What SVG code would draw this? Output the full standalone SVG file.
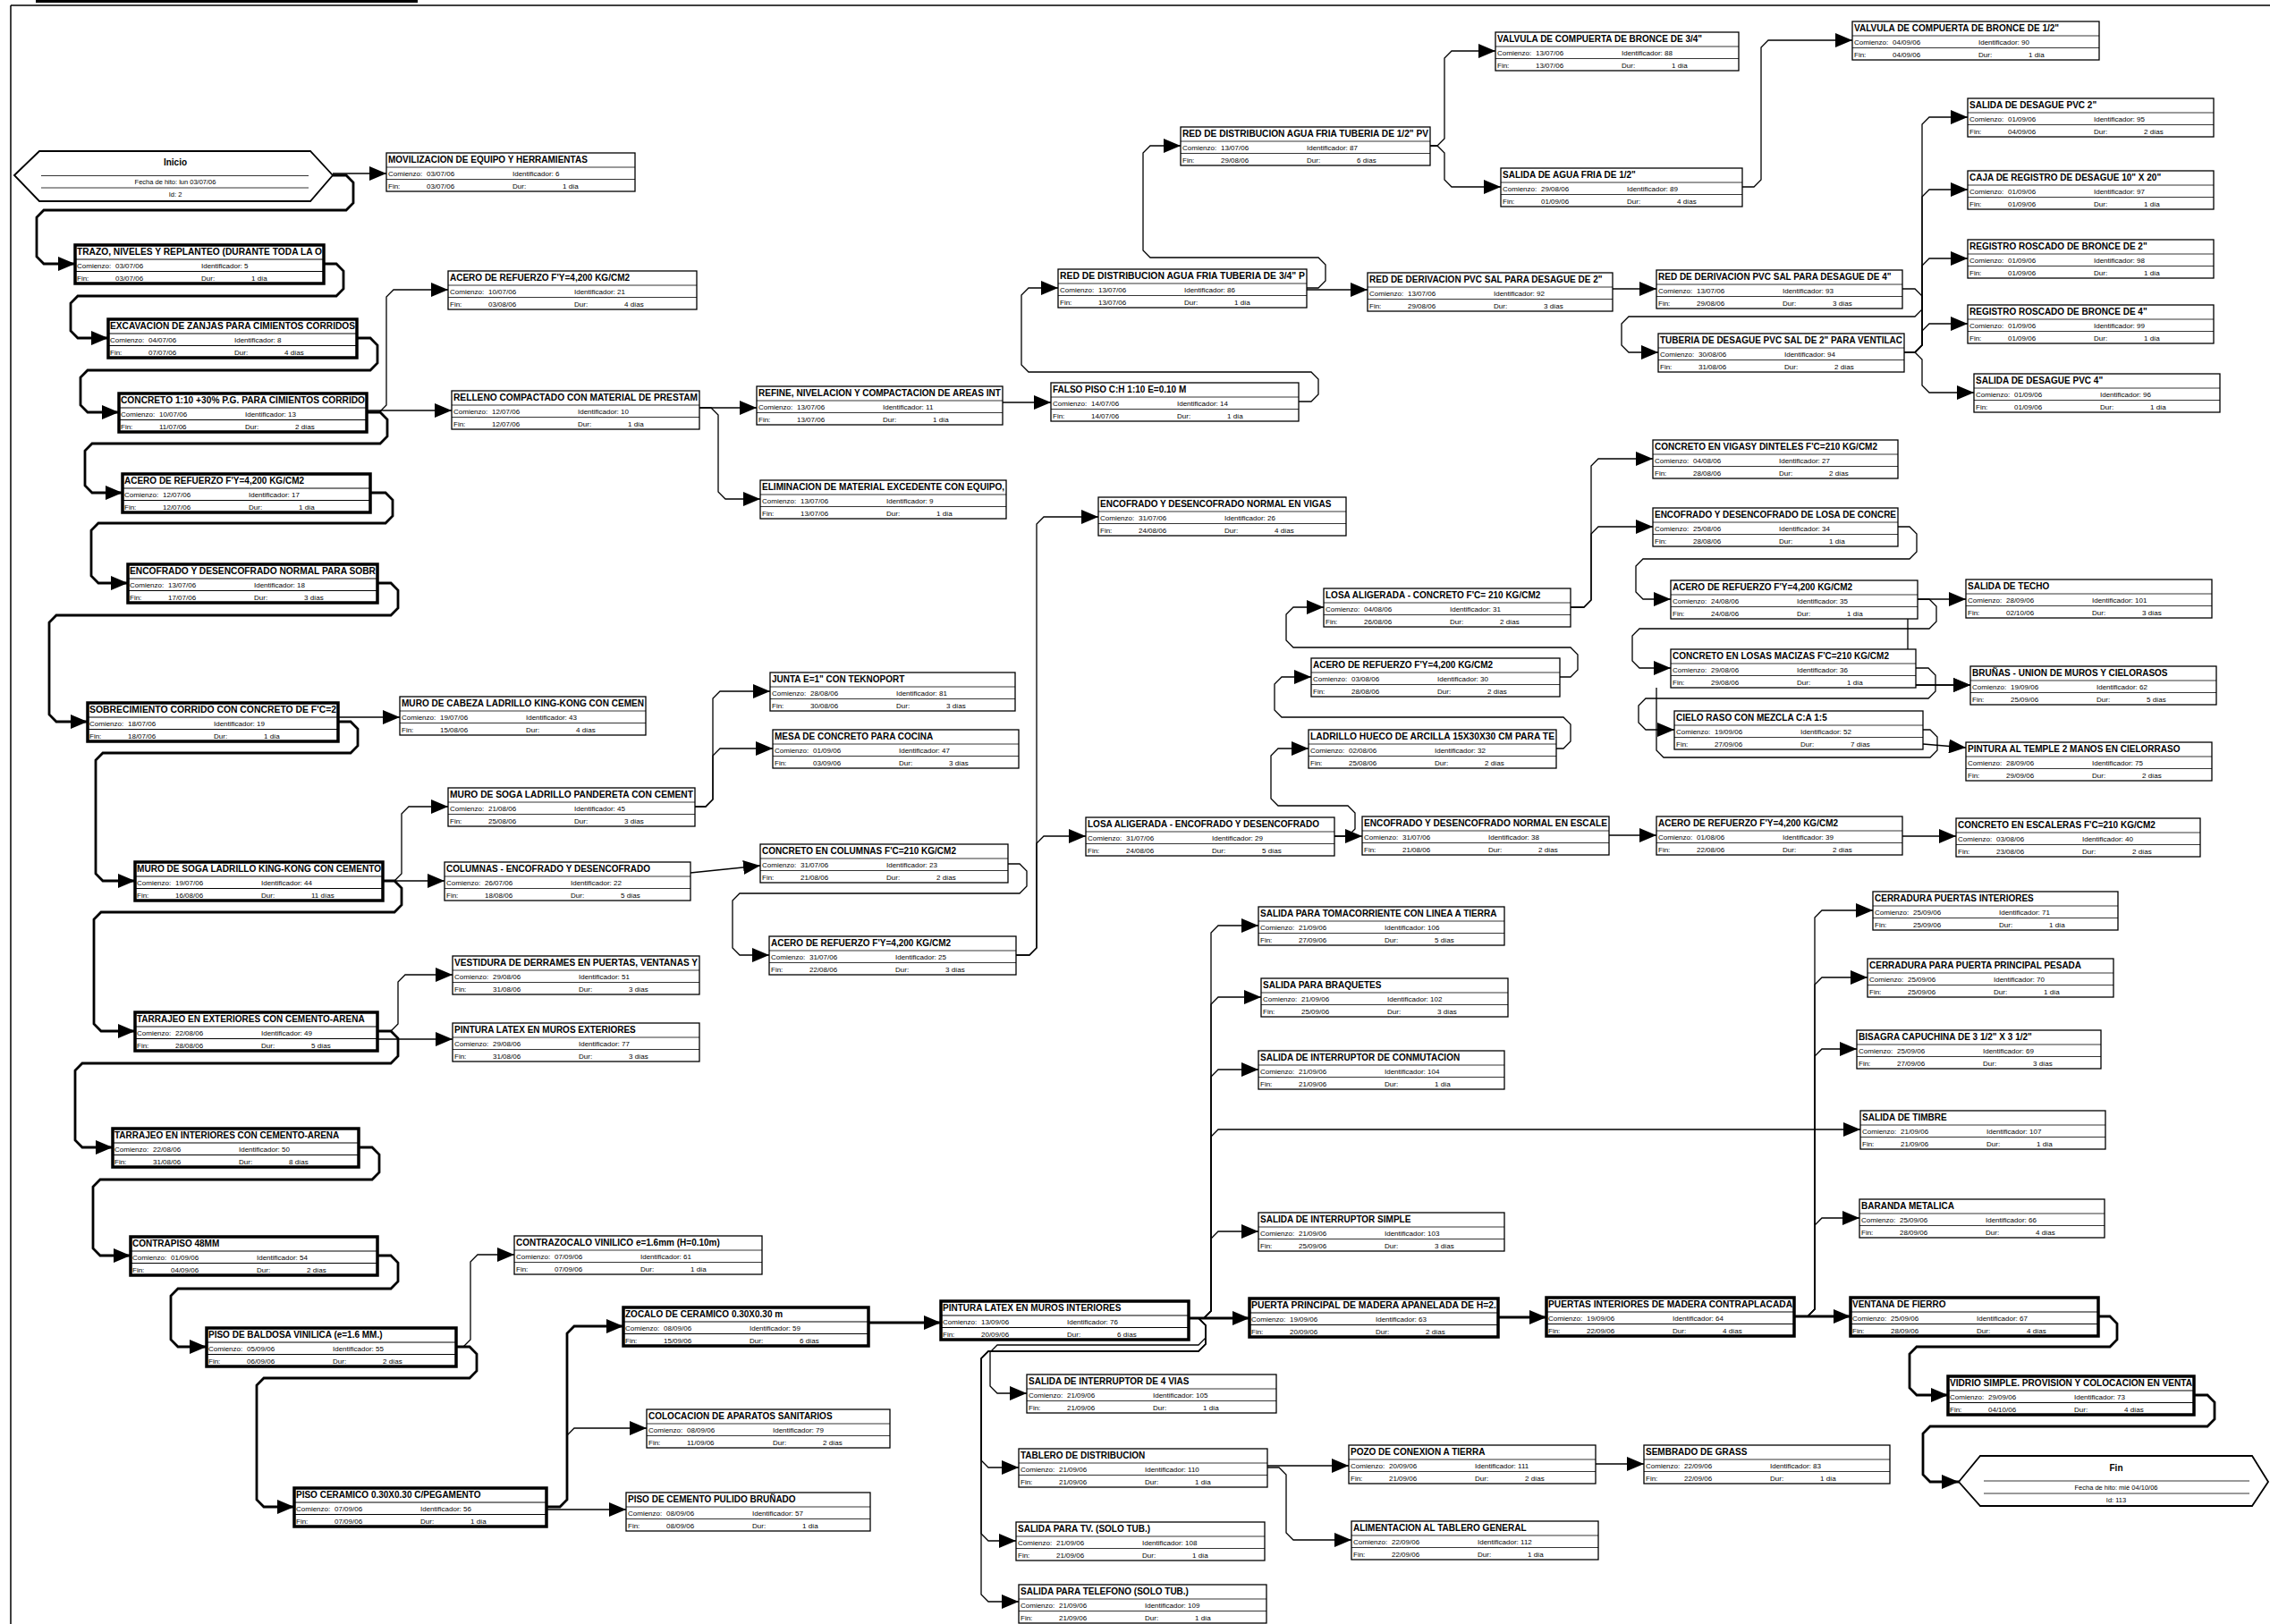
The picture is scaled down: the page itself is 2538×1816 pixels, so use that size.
<svg xmlns="http://www.w3.org/2000/svg" width="2538" height="1816" viewBox="0 0 2538 1816">
<style>
.n rect{fill:#fff;stroke:#000;stroke-width:1.3}
.n.c rect{stroke-width:3.5}
.n path{fill:none;stroke:#000;stroke-width:0.8}
.n.c path{stroke-width:1.2}
.t{font-family:"Liberation Sans",Arial,sans-serif;font-weight:bold;font-size:10px;fill:#000}
.r{font-family:"Liberation Sans",Arial,sans-serif;font-size:8px;fill:#000}
.s{font-family:"Liberation Sans",Arial,sans-serif;font-size:7.5px;fill:#000}
.k path{fill:none;stroke:#000;stroke-width:1.3;marker-end:url(#a)}
.k path.c{stroke-width:2.8}
.k path.nm{marker-end:none}
.m polygon{fill:#fff;stroke:#000;stroke-width:1.8}
.m path{fill:none;stroke:#000;stroke-width:0.8}
.f path{fill:none;stroke:#000}
</style>
<defs>
<marker id="a" markerUnits="userSpaceOnUse" markerWidth="19" markerHeight="16" refX="19" refY="8" orient="auto"><path d="M0,0L19,8L0,16z" fill="#000" stroke="none"/></marker>
</defs>
<rect width="2538" height="1816" fill="#fff"/>
<g id="frame" class="f"><path d="M40 1.5H467" stroke-width="3"/><path d="M12 6H2538M12 6V1816" stroke-width="1.5"/></g>

<g id="connectors" class="k">
<path class="c" d="M372 196H387l8 8V227l-8 8H49l-8 8V287l8 8H84"/>
<path class="c" d="M362 295H376l8 8V323l-8 8H87l-8 8V370l8 8H121"/>
<path class="c" d="M399 378H414l8 8V406l-8 8H98l-8 8V453l8 8H133"/>
<path class="c" d="M410 461H425l8 8V488l-8 8H103l-8 8V543l8 8H137"/>
<path class="c" d="M414 551H431l8 8V577l-8 8H110l-8 8V644l8 8H143"/>
<path class="c" d="M422 652H437l8 8V680l-8 8H63l-8 8V799l8 8H98"/>
<path class="c" d="M378 807H392l8 8V834l-8 8H115l-8 8V977l8 8H151"/>
<path class="c" d="M428 985H441l8 8V1012l-8 8H113l-8 8V1145l8 8H151"/>
<path class="c" d="M422 1153H437l8 8V1181l-8 8H92l-8 8V1275l8 8H126"/>
<path class="c" d="M401 1283H416l8 8V1311l-8 8H112l-8 8V1396l8 8H146"/>
<path class="c" d="M422 1404H437l8 8V1433l-8 8H199l-8 8V1498l8 8H231"/>
<path class="c" d="M510 1506H525l8 8V1533l-8 8H295l-8 8V1677l8 8H329"/>
<path class="c" d="M611 1685H626l8 -8V1491l8 -8H697"/>
<path class="c" d="M971 1479H1052"/>
<path class="c" d="M1329 1474H1397"/>
<path class="c" d="M1675 1473H1729"/>
<path class="c" d="M2006 1472H2069"/>
<path class="c" d="M2346 1472H2359l8 8V1498l-8 8H2143l-8 8V1552l8 8H2178"/>
<path class="c" d="M2453 1560H2468l8 8V1587l-8 8H2158l-8 8V1649l8 8H2190"/>
<path d="M372 194H432"/>
<path d="M410 461H424l8 -8V332l8 -8H501"/>
<path d="M410 459H505"/>
<path d="M782 456H846"/>
<path d="M782 456H795l8 8V550l8 8H850"/>
<path d="M1121 450H1175"/>
<path d="M1452 449H1466l8 -8V424l-8 -8H1150l-8 -8V330l8 -8H1183"/>
<path d="M1461 322H1474l8 -8V296l-8 -8H1286l-8 -8V171l8 -8H1320"/>
<path d="M1461 324H1529"/>
<path d="M1599 163H1607l8 -8V65l8 -8H1672"/>
<path d="M1599 163H1607l8 8V201l8 8H1678"/>
<path d="M1948 209H1961l8 -8V53l8 -8H2071"/>
<path d="M1803 323H1852"/>
<path d="M2127 323H2141l8 8V346l-8 8H1821l-8 8V386l8 8H1854"/>
<path d="M2129 394H2141l8 -8V139l8 -8H2200"/>
<path d="M2129 394H2141l8 -8V220l8 -8H2200"/>
<path d="M2129 394H2141l8 -8V297l8 -8H2200"/>
<path d="M2129 394H2141l8 -8V370l8 -8H2200"/>
<path d="M2129 394H2141l8 8V431l8 8H2207"/>
<path d="M1136 1068H1151l8 -8V586l8 -8H1228"/>
<path d="M1136 1068H1151l8 -8V943l8 -8H1214"/>
<path d="M1492 935H1523"/>
<path d="M1492 935H1507l8 -8V909l-8 -8H1429l-8 -8V845l8 -8H1463"/>
<path d="M1740 837H1748l8 -8V810l-8 -8H1433l-8 -8V765l8 -8H1466"/>
<path d="M1744 757H1756l8 -8V732l-8 -8H1446l-8 -8V687l8 -8H1480"/>
<path d="M1756 679H1771l8 -8V521l8 -8H1848"/>
<path d="M1756 679H1771l8 -8V597l8 -8H1848"/>
<path d="M1799 934H1852"/>
<path d="M2127 935H2187"/>
<path d="M2122 589H2135l8 8V617l-8 8H1837l-8 8V662l8 8H1868"/>
<path d="M2144 670H2157l8 8V695l-8 8H1833l-8 8V739l8 8H1868"/>
<path d="M2142 747H2156l8 8V773l-8 8H1840l-8 8V808l8 8H1872"/>
<path d="M2144 670H2198"/>
<path d="M2142 766H2203"/>
<path d="M2133 692V758l8 8H2203"/>
<path d="M2150 832L2198 836"/>
<path class="nm" d="M1852 769V839l8 8H2158l8 -8V824l-8 -8H2150"/>
<path d="M1329 1474H1346l8 -8V1043l8 -8H1407"/>
<path d="M1329 1474H1346l8 -8V1123l8 -8H1410"/>
<path d="M1329 1474H1346l8 -8V1204l8 -8H1407"/>
<path d="M1329 1474H1346l8 -8V1271l8 -8H2080"/>
<path d="M1329 1474H1346l8 -8V1385l8 -8H1407"/>
<path d="M1329 1474H1340l8 8V1496l-8 8H1115l-8 8V1550l8 8H1148"/>
<path d="M1329 1474H1340l8 8V1503l-8 8H1105l-8 8V1633l8 8H1139"/>
<path d="M1329 1474H1340l8 8V1503l-8 8H1105l-8 8V1715l8 8H1136"/>
<path d="M1329 1474H1340l8 8V1503l-8 8H1105l-8 8V1783l8 8H1139"/>
<path d="M1417 1639H1508"/>
<path d="M1417 1641H1430l8 8V1714l8 8H1511"/>
<path d="M1784 1637H1838"/>
<path d="M2006 1472H2021l8 -8V1026l8 -8H2094"/>
<path d="M2006 1472H2021l8 -8V1101l8 -8H2088"/>
<path d="M2006 1472H2021l8 -8V1181l8 -8H2076"/>
<path d="M2006 1472H2021l8 -8V1370l8 -8H2079"/>
<path d="M611 1685H626l8 -8V1605l8 -8H723"/>
<path d="M611 1688H700"/>
<path d="M510 1506H518l8 -8V1411l8 -8H575"/>
<path d="M428 985H441l8 -8V910l8 -8H501"/>
<path d="M428 985H497"/>
<path d="M378 802H447"/>
<path d="M422 1153H437l8 -8V1098l8 -8H506"/>
<path d="M422 1162H506"/>
<path d="M777 902H789l8 -8V781l8 -8H861"/>
<path d="M777 902H789l8 -8V845l8 -8H864"/>
<path d="M772 976L850 968"/>
<path d="M1127 966H1140l8 8V991l-8 8H827l-8 8V1060l8 8H860"/>
</g>

<g id="inicio" class="m"><polygon points="16,196 44,169 347,169 372,196 347,225 44,225"/><path d="M46 196.5H345M46 210H345"/><text class="t" x="196" y="185" text-anchor="middle">Inicio</text><text class="s" x="196" y="206" text-anchor="middle">Fecha de hito: lun 03/07/06</text><text class="s" x="196" y="220" text-anchor="middle">Id: 2</text></g>
<g id="fin" class="m"><polygon points="2190,1657 2214,1628 2518,1628 2536,1657 2518,1684 2214,1684"/><path d="M2218 1656H2515M2218 1670H2515"/><text class="t" x="2366" y="1645" text-anchor="middle">Fin</text><text class="s" x="2366" y="1666" text-anchor="middle">Fecha de hito: mié 04/10/06</text><text class="s" x="2366" y="1680" text-anchor="middle">Id: 113</text></g>

<g id="n6" class="n" transform="translate(432,171)"><rect width="278" height="43"/><path d="M0 16H278M0 29.5H278"/><text class="t" x="2" y="11">MOVILIZACION DE EQUIPO Y HERRAMIENTAS</text><text class="r" y="25.5"><tspan x="2">Comienzo:</tspan><tspan x="45">03/07/06</tspan><tspan x="141">Identificador: 6</tspan></text><text class="r" y="39.5"><tspan x="2">Fin:</tspan><tspan x="45">03/07/06</tspan><tspan x="141">Dur:</tspan><tspan x="197">1 día</tspan></text></g>
<g id="n5" class="n c" transform="translate(84,274)"><rect width="278" height="43"/><path d="M0 16H278M0 29.5H278"/><text class="t" x="2" y="11" textLength="274" lengthAdjust="spacingAndGlyphs">TRAZO, NIVELES Y REPLANTEO (DURANTE TODA LA O</text><text class="r" y="25.5"><tspan x="2">Comienzo:</tspan><tspan x="45">03/07/06</tspan><tspan x="141">Identificador: 5</tspan></text><text class="r" y="39.5"><tspan x="2">Fin:</tspan><tspan x="45">03/07/06</tspan><tspan x="141">Dur:</tspan><tspan x="197">1 día</tspan></text></g>
<g id="n8" class="n c" transform="translate(121,357)"><rect width="278" height="43"/><path d="M0 16H278M0 29.5H278"/><text class="t" x="2" y="11" textLength="274" lengthAdjust="spacingAndGlyphs">EXCAVACION DE ZANJAS PARA CIMIENTOS CORRIDOS</text><text class="r" y="25.5"><tspan x="2">Comienzo:</tspan><tspan x="45">04/07/06</tspan><tspan x="141">Identificador: 8</tspan></text><text class="r" y="39.5"><tspan x="2">Fin:</tspan><tspan x="45">07/07/06</tspan><tspan x="141">Dur:</tspan><tspan x="197">4 días</tspan></text></g>
<g id="n13" class="n c" transform="translate(133,440)"><rect width="277" height="43"/><path d="M0 16H277M0 29.5H277"/><text class="t" x="2" y="11" textLength="273" lengthAdjust="spacingAndGlyphs">CONCRETO 1:10 +30% P.G. PARA CIMIENTOS CORRIDO</text><text class="r" y="25.5"><tspan x="2">Comienzo:</tspan><tspan x="45">10/07/06</tspan><tspan x="141">Identificador: 13</tspan></text><text class="r" y="39.5"><tspan x="2">Fin:</tspan><tspan x="45">11/07/06</tspan><tspan x="141">Dur:</tspan><tspan x="197">2 días</tspan></text></g>
<g id="n21" class="n" transform="translate(501,303)"><rect width="278" height="43"/><path d="M0 16H278M0 29.5H278"/><text class="t" x="2" y="11">ACERO DE REFUERZO F'Y=4,200 KG/CM2</text><text class="r" y="25.5"><tspan x="2">Comienzo:</tspan><tspan x="45">10/07/06</tspan><tspan x="141">Identificador: 21</tspan></text><text class="r" y="39.5"><tspan x="2">Fin:</tspan><tspan x="45">03/08/06</tspan><tspan x="141">Dur:</tspan><tspan x="197">4 días</tspan></text></g>
<g id="n17" class="n c" transform="translate(137,530)"><rect width="277" height="43"/><path d="M0 16H277M0 29.5H277"/><text class="t" x="2" y="11">ACERO DE REFUERZO F'Y=4,200 KG/CM2</text><text class="r" y="25.5"><tspan x="2">Comienzo:</tspan><tspan x="45">12/07/06</tspan><tspan x="141">Identificador: 17</tspan></text><text class="r" y="39.5"><tspan x="2">Fin:</tspan><tspan x="45">12/07/06</tspan><tspan x="141">Dur:</tspan><tspan x="197">1 día</tspan></text></g>
<g id="n10" class="n" transform="translate(505,437)"><rect width="277" height="43"/><path d="M0 16H277M0 29.5H277"/><text class="t" x="2" y="11" textLength="273" lengthAdjust="spacingAndGlyphs">RELLENO COMPACTADO CON MATERIAL DE PRESTAM</text><text class="r" y="25.5"><tspan x="2">Comienzo:</tspan><tspan x="45">12/07/06</tspan><tspan x="141">Identificador: 10</tspan></text><text class="r" y="39.5"><tspan x="2">Fin:</tspan><tspan x="45">12/07/06</tspan><tspan x="141">Dur:</tspan><tspan x="197">1 día</tspan></text></g>
<g id="n11" class="n" transform="translate(846,432)"><rect width="275" height="43"/><path d="M0 16H275M0 29.5H275"/><text class="t" x="2" y="11" textLength="271" lengthAdjust="spacingAndGlyphs">REFINE, NIVELACION Y COMPACTACION DE AREAS INT</text><text class="r" y="25.5"><tspan x="2">Comienzo:</tspan><tspan x="45">13/07/06</tspan><tspan x="141">Identificador: 11</tspan></text><text class="r" y="39.5"><tspan x="2">Fin:</tspan><tspan x="45">13/07/06</tspan><tspan x="141">Dur:</tspan><tspan x="197">1 día</tspan></text></g>
<g id="n9" class="n" transform="translate(850,537)"><rect width="275" height="43"/><path d="M0 16H275M0 29.5H275"/><text class="t" x="2" y="11" textLength="271" lengthAdjust="spacingAndGlyphs">ELIMINACION DE MATERIAL EXCEDENTE CON EQUIPO,</text><text class="r" y="25.5"><tspan x="2">Comienzo:</tspan><tspan x="45">13/07/06</tspan><tspan x="141">Identificador: 9</tspan></text><text class="r" y="39.5"><tspan x="2">Fin:</tspan><tspan x="45">13/07/06</tspan><tspan x="141">Dur:</tspan><tspan x="197">1 día</tspan></text></g>
<g id="n14" class="n" transform="translate(1175,428)"><rect width="277" height="43"/><path d="M0 16H277M0 29.5H277"/><text class="t" x="2" y="11">FALSO PISO C:H 1:10 E=0.10 M</text><text class="r" y="25.5"><tspan x="2">Comienzo:</tspan><tspan x="45">14/07/06</tspan><tspan x="141">Identificador: 14</tspan></text><text class="r" y="39.5"><tspan x="2">Fin:</tspan><tspan x="45">14/07/06</tspan><tspan x="141">Dur:</tspan><tspan x="197">1 día</tspan></text></g>
<g id="n86" class="n" transform="translate(1183,301)"><rect width="278" height="43"/><path d="M0 16H278M0 29.5H278"/><text class="t" x="2" y="11" textLength="274" lengthAdjust="spacingAndGlyphs">RED DE DISTRIBUCION AGUA FRIA TUBERIA DE 3/4" P</text><text class="r" y="25.5"><tspan x="2">Comienzo:</tspan><tspan x="45">13/07/06</tspan><tspan x="141">Identificador: 86</tspan></text><text class="r" y="39.5"><tspan x="2">Fin:</tspan><tspan x="45">13/07/06</tspan><tspan x="141">Dur:</tspan><tspan x="197">1 día</tspan></text></g>
<g id="n87" class="n" transform="translate(1320,142)"><rect width="279" height="43"/><path d="M0 16H279M0 29.5H279"/><text class="t" x="2" y="11" textLength="275" lengthAdjust="spacingAndGlyphs">RED DE DISTRIBUCION AGUA FRIA TUBERIA DE 1/2" PV</text><text class="r" y="25.5"><tspan x="2">Comienzo:</tspan><tspan x="45">13/07/06</tspan><tspan x="141">Identificador: 87</tspan></text><text class="r" y="39.5"><tspan x="2">Fin:</tspan><tspan x="45">29/08/06</tspan><tspan x="141">Dur:</tspan><tspan x="197">6 días</tspan></text></g>
<g id="n88" class="n" transform="translate(1672,36)"><rect width="272" height="43"/><path d="M0 16H272M0 29.5H272"/><text class="t" x="2" y="11">VALVULA DE COMPUERTA DE BRONCE DE 3/4"</text><text class="r" y="25.5"><tspan x="2">Comienzo:</tspan><tspan x="45">13/07/06</tspan><tspan x="141">Identificador: 88</tspan></text><text class="r" y="39.5"><tspan x="2">Fin:</tspan><tspan x="45">13/07/06</tspan><tspan x="141">Dur:</tspan><tspan x="197">1 día</tspan></text></g>
<g id="n89" class="n" transform="translate(1678,188)"><rect width="270" height="43"/><path d="M0 16H270M0 29.5H270"/><text class="t" x="2" y="11">SALIDA DE AGUA FRIA DE 1/2"</text><text class="r" y="25.5"><tspan x="2">Comienzo:</tspan><tspan x="45">29/08/06</tspan><tspan x="141">Identificador: 89</tspan></text><text class="r" y="39.5"><tspan x="2">Fin:</tspan><tspan x="45">01/09/06</tspan><tspan x="141">Dur:</tspan><tspan x="197">4 días</tspan></text></g>
<g id="n90" class="n" transform="translate(2071,24)"><rect width="276" height="43"/><path d="M0 16H276M0 29.5H276"/><text class="t" x="2" y="11">VALVULA DE COMPUERTA DE BRONCE DE 1/2"</text><text class="r" y="25.5"><tspan x="2">Comienzo:</tspan><tspan x="45">04/09/06</tspan><tspan x="141">Identificador: 90</tspan></text><text class="r" y="39.5"><tspan x="2">Fin:</tspan><tspan x="45">04/09/06</tspan><tspan x="141">Dur:</tspan><tspan x="197">1 día</tspan></text></g>
<g id="n92" class="n" transform="translate(1529,305)"><rect width="274" height="43"/><path d="M0 16H274M0 29.5H274"/><text class="t" x="2" y="11">RED DE DERIVACION PVC SAL PARA DESAGUE DE 2"</text><text class="r" y="25.5"><tspan x="2">Comienzo:</tspan><tspan x="45">13/07/06</tspan><tspan x="141">Identificador: 92</tspan></text><text class="r" y="39.5"><tspan x="2">Fin:</tspan><tspan x="45">29/08/06</tspan><tspan x="141">Dur:</tspan><tspan x="197">3 días</tspan></text></g>
<g id="n93" class="n" transform="translate(1852,302)"><rect width="275" height="43"/><path d="M0 16H275M0 29.5H275"/><text class="t" x="2" y="11">RED DE DERIVACION PVC SAL PARA DESAGUE DE 4"</text><text class="r" y="25.5"><tspan x="2">Comienzo:</tspan><tspan x="45">13/07/06</tspan><tspan x="141">Identificador: 93</tspan></text><text class="r" y="39.5"><tspan x="2">Fin:</tspan><tspan x="45">29/08/06</tspan><tspan x="141">Dur:</tspan><tspan x="197">3 días</tspan></text></g>
<g id="n94" class="n" transform="translate(1854,373)"><rect width="275" height="43"/><path d="M0 16H275M0 29.5H275"/><text class="t" x="2" y="11" textLength="271" lengthAdjust="spacingAndGlyphs">TUBERIA DE DESAGUE PVC SAL DE 2" PARA VENTILAC</text><text class="r" y="25.5"><tspan x="2">Comienzo:</tspan><tspan x="45">30/08/06</tspan><tspan x="141">Identificador: 94</tspan></text><text class="r" y="39.5"><tspan x="2">Fin:</tspan><tspan x="45">31/08/06</tspan><tspan x="141">Dur:</tspan><tspan x="197">2 días</tspan></text></g>
<g id="n95" class="n" transform="translate(2200,110)"><rect width="275" height="43"/><path d="M0 16H275M0 29.5H275"/><text class="t" x="2" y="11">SALIDA DE DESAGUE PVC 2"</text><text class="r" y="25.5"><tspan x="2">Comienzo:</tspan><tspan x="45">01/09/06</tspan><tspan x="141">Identificador: 95</tspan></text><text class="r" y="39.5"><tspan x="2">Fin:</tspan><tspan x="45">04/09/06</tspan><tspan x="141">Dur:</tspan><tspan x="197">2 días</tspan></text></g>
<g id="n97" class="n" transform="translate(2200,191)"><rect width="275" height="43"/><path d="M0 16H275M0 29.5H275"/><text class="t" x="2" y="11">CAJA DE REGISTRO DE DESAGUE 10" X 20"</text><text class="r" y="25.5"><tspan x="2">Comienzo:</tspan><tspan x="45">01/09/06</tspan><tspan x="141">Identificador: 97</tspan></text><text class="r" y="39.5"><tspan x="2">Fin:</tspan><tspan x="45">01/09/06</tspan><tspan x="141">Dur:</tspan><tspan x="197">1 día</tspan></text></g>
<g id="n98" class="n" transform="translate(2200,268)"><rect width="275" height="43"/><path d="M0 16H275M0 29.5H275"/><text class="t" x="2" y="11">REGISTRO ROSCADO DE BRONCE DE 2"</text><text class="r" y="25.5"><tspan x="2">Comienzo:</tspan><tspan x="45">01/09/06</tspan><tspan x="141">Identificador: 98</tspan></text><text class="r" y="39.5"><tspan x="2">Fin:</tspan><tspan x="45">01/09/06</tspan><tspan x="141">Dur:</tspan><tspan x="197">1 día</tspan></text></g>
<g id="n99" class="n" transform="translate(2200,341)"><rect width="275" height="43"/><path d="M0 16H275M0 29.5H275"/><text class="t" x="2" y="11">REGISTRO ROSCADO DE BRONCE DE 4"</text><text class="r" y="25.5"><tspan x="2">Comienzo:</tspan><tspan x="45">01/09/06</tspan><tspan x="141">Identificador: 99</tspan></text><text class="r" y="39.5"><tspan x="2">Fin:</tspan><tspan x="45">01/09/06</tspan><tspan x="141">Dur:</tspan><tspan x="197">1 día</tspan></text></g>
<g id="n96" class="n" transform="translate(2207,418)"><rect width="275" height="43"/><path d="M0 16H275M0 29.5H275"/><text class="t" x="2" y="11">SALIDA DE DESAGUE PVC 4"</text><text class="r" y="25.5"><tspan x="2">Comienzo:</tspan><tspan x="45">01/09/06</tspan><tspan x="141">Identificador: 96</tspan></text><text class="r" y="39.5"><tspan x="2">Fin:</tspan><tspan x="45">01/09/06</tspan><tspan x="141">Dur:</tspan><tspan x="197">1 día</tspan></text></g>
<g id="n27" class="n" transform="translate(1848,492)"><rect width="274" height="43"/><path d="M0 16H274M0 29.5H274"/><text class="t" x="2" y="11">CONCRETO EN VIGASY DINTELES F'C=210 KG/CM2</text><text class="r" y="25.5"><tspan x="2">Comienzo:</tspan><tspan x="45">04/08/06</tspan><tspan x="141">Identificador: 27</tspan></text><text class="r" y="39.5"><tspan x="2">Fin:</tspan><tspan x="45">28/08/06</tspan><tspan x="141">Dur:</tspan><tspan x="197">2 días</tspan></text></g>
<g id="n34" class="n" transform="translate(1848,568)"><rect width="274" height="43"/><path d="M0 16H274M0 29.5H274"/><text class="t" x="2" y="11" textLength="270" lengthAdjust="spacingAndGlyphs">ENCOFRADO Y DESENCOFRADO DE LOSA DE CONCRE</text><text class="r" y="25.5"><tspan x="2">Comienzo:</tspan><tspan x="45">25/08/06</tspan><tspan x="141">Identificador: 34</tspan></text><text class="r" y="39.5"><tspan x="2">Fin:</tspan><tspan x="45">28/08/06</tspan><tspan x="141">Dur:</tspan><tspan x="197">1 día</tspan></text></g>
<g id="n26" class="n" transform="translate(1228,556)"><rect width="277" height="43"/><path d="M0 16H277M0 29.5H277"/><text class="t" x="2" y="11">ENCOFRADO Y DESENCOFRADO NORMAL EN VIGAS</text><text class="r" y="25.5"><tspan x="2">Comienzo:</tspan><tspan x="45">31/07/06</tspan><tspan x="141">Identificador: 26</tspan></text><text class="r" y="39.5"><tspan x="2">Fin:</tspan><tspan x="45">24/08/06</tspan><tspan x="141">Dur:</tspan><tspan x="197">4 días</tspan></text></g>
<g id="n18" class="n c" transform="translate(143,631)"><rect width="279" height="43"/><path d="M0 16H279M0 29.5H279"/><text class="t" x="2" y="11" textLength="275" lengthAdjust="spacingAndGlyphs">ENCOFRADO Y DESENCOFRADO NORMAL PARA SOBR</text><text class="r" y="25.5"><tspan x="2">Comienzo:</tspan><tspan x="45">13/07/06</tspan><tspan x="141">Identificador: 18</tspan></text><text class="r" y="39.5"><tspan x="2">Fin:</tspan><tspan x="45">17/07/06</tspan><tspan x="141">Dur:</tspan><tspan x="197">3 días</tspan></text></g>
<g id="n19" class="n c" transform="translate(98,786)"><rect width="280" height="43"/><path d="M0 16H280M0 29.5H280"/><text class="t" x="2" y="11" textLength="276" lengthAdjust="spacingAndGlyphs">SOBRECIMIENTO CORRIDO CON CONCRETO DE F'C=2</text><text class="r" y="25.5"><tspan x="2">Comienzo:</tspan><tspan x="45">18/07/06</tspan><tspan x="141">Identificador: 19</tspan></text><text class="r" y="39.5"><tspan x="2">Fin:</tspan><tspan x="45">18/07/06</tspan><tspan x="141">Dur:</tspan><tspan x="197">1 día</tspan></text></g>
<g id="n43" class="n" transform="translate(447,779)"><rect width="275" height="43"/><path d="M0 16H275M0 29.5H275"/><text class="t" x="2" y="11" textLength="271" lengthAdjust="spacingAndGlyphs">MURO DE CABEZA LADRILLO KING-KONG CON CEMEN</text><text class="r" y="25.5"><tspan x="2">Comienzo:</tspan><tspan x="45">19/07/06</tspan><tspan x="141">Identificador: 43</tspan></text><text class="r" y="39.5"><tspan x="2">Fin:</tspan><tspan x="45">15/08/06</tspan><tspan x="141">Dur:</tspan><tspan x="197">4 días</tspan></text></g>
<g id="n44" class="n c" transform="translate(151,964)"><rect width="277" height="43"/><path d="M0 16H277M0 29.5H277"/><text class="t" x="2" y="11" textLength="273" lengthAdjust="spacingAndGlyphs">MURO DE SOGA LADRILLO KING-KONG CON CEMENTO</text><text class="r" y="25.5"><tspan x="2">Comienzo:</tspan><tspan x="45">19/07/06</tspan><tspan x="141">Identificador: 44</tspan></text><text class="r" y="39.5"><tspan x="2">Fin:</tspan><tspan x="45">16/08/06</tspan><tspan x="141">Dur:</tspan><tspan x="197">11 días</tspan></text></g>
<g id="n45" class="n" transform="translate(501,881)"><rect width="276" height="43"/><path d="M0 16H276M0 29.5H276"/><text class="t" x="2" y="11" textLength="272" lengthAdjust="spacingAndGlyphs">MURO DE SOGA LADRILLO PANDERETA CON CEMENT</text><text class="r" y="25.5"><tspan x="2">Comienzo:</tspan><tspan x="45">21/08/06</tspan><tspan x="141">Identificador: 45</tspan></text><text class="r" y="39.5"><tspan x="2">Fin:</tspan><tspan x="45">25/08/06</tspan><tspan x="141">Dur:</tspan><tspan x="197">3 días</tspan></text></g>
<g id="n22" class="n" transform="translate(497,964)"><rect width="275" height="43"/><path d="M0 16H275M0 29.5H275"/><text class="t" x="2" y="11">COLUMNAS - ENCOFRADO Y DESENCOFRADO</text><text class="r" y="25.5"><tspan x="2">Comienzo:</tspan><tspan x="45">26/07/06</tspan><tspan x="141">Identificador: 22</tspan></text><text class="r" y="39.5"><tspan x="2">Fin:</tspan><tspan x="45">18/08/06</tspan><tspan x="141">Dur:</tspan><tspan x="197">5 días</tspan></text></g>
<g id="n49" class="n c" transform="translate(151,1132)"><rect width="271" height="43"/><path d="M0 16H271M0 29.5H271"/><text class="t" x="2" y="11">TARRAJEO EN EXTERIORES CON CEMENTO-ARENA</text><text class="r" y="25.5"><tspan x="2">Comienzo:</tspan><tspan x="45">22/08/06</tspan><tspan x="141">Identificador: 49</tspan></text><text class="r" y="39.5"><tspan x="2">Fin:</tspan><tspan x="45">28/08/06</tspan><tspan x="141">Dur:</tspan><tspan x="197">5 días</tspan></text></g>
<g id="n51" class="n" transform="translate(506,1069)"><rect width="276" height="43"/><path d="M0 16H276M0 29.5H276"/><text class="t" x="2" y="11" textLength="272" lengthAdjust="spacingAndGlyphs">VESTIDURA DE DERRAMES EN PUERTAS, VENTANAS Y</text><text class="r" y="25.5"><tspan x="2">Comienzo:</tspan><tspan x="45">29/08/06</tspan><tspan x="141">Identificador: 51</tspan></text><text class="r" y="39.5"><tspan x="2">Fin:</tspan><tspan x="45">31/08/06</tspan><tspan x="141">Dur:</tspan><tspan x="197">3 días</tspan></text></g>
<g id="n77" class="n" transform="translate(506,1144)"><rect width="276" height="43"/><path d="M0 16H276M0 29.5H276"/><text class="t" x="2" y="11">PINTURA LATEX EN MUROS EXTERIORES</text><text class="r" y="25.5"><tspan x="2">Comienzo:</tspan><tspan x="45">29/08/06</tspan><tspan x="141">Identificador: 77</tspan></text><text class="r" y="39.5"><tspan x="2">Fin:</tspan><tspan x="45">31/08/06</tspan><tspan x="141">Dur:</tspan><tspan x="197">3 días</tspan></text></g>
<g id="n81" class="n" transform="translate(861,752)"><rect width="274" height="43"/><path d="M0 16H274M0 29.5H274"/><text class="t" x="2" y="11">JUNTA E=1" CON TEKNOPORT</text><text class="r" y="25.5"><tspan x="2">Comienzo:</tspan><tspan x="45">28/08/06</tspan><tspan x="141">Identificador: 81</tspan></text><text class="r" y="39.5"><tspan x="2">Fin:</tspan><tspan x="45">30/08/06</tspan><tspan x="141">Dur:</tspan><tspan x="197">3 días</tspan></text></g>
<g id="n47" class="n" transform="translate(864,816)"><rect width="275" height="43"/><path d="M0 16H275M0 29.5H275"/><text class="t" x="2" y="11">MESA DE CONCRETO PARA COCINA</text><text class="r" y="25.5"><tspan x="2">Comienzo:</tspan><tspan x="45">01/09/06</tspan><tspan x="141">Identificador: 47</tspan></text><text class="r" y="39.5"><tspan x="2">Fin:</tspan><tspan x="45">03/09/06</tspan><tspan x="141">Dur:</tspan><tspan x="197">3 días</tspan></text></g>
<g id="n23" class="n" transform="translate(850,944)"><rect width="277" height="43"/><path d="M0 16H277M0 29.5H277"/><text class="t" x="2" y="11">CONCRETO EN COLUMNAS F'C=210 KG/CM2</text><text class="r" y="25.5"><tspan x="2">Comienzo:</tspan><tspan x="45">31/07/06</tspan><tspan x="141">Identificador: 23</tspan></text><text class="r" y="39.5"><tspan x="2">Fin:</tspan><tspan x="45">21/08/06</tspan><tspan x="141">Dur:</tspan><tspan x="197">2 días</tspan></text></g>
<g id="n25" class="n" transform="translate(860,1047)"><rect width="276" height="43"/><path d="M0 16H276M0 29.5H276"/><text class="t" x="2" y="11">ACERO DE REFUERZO F'Y=4,200 KG/CM2</text><text class="r" y="25.5"><tspan x="2">Comienzo:</tspan><tspan x="45">31/07/06</tspan><tspan x="141">Identificador: 25</tspan></text><text class="r" y="39.5"><tspan x="2">Fin:</tspan><tspan x="45">22/08/06</tspan><tspan x="141">Dur:</tspan><tspan x="197">3 días</tspan></text></g>
<g id="n29" class="n" transform="translate(1214,914)"><rect width="278" height="43"/><path d="M0 16H278M0 29.5H278"/><text class="t" x="2" y="11">LOSA ALIGERADA - ENCOFRADO Y DESENCOFRADO</text><text class="r" y="25.5"><tspan x="2">Comienzo:</tspan><tspan x="45">31/07/06</tspan><tspan x="141">Identificador: 29</tspan></text><text class="r" y="39.5"><tspan x="2">Fin:</tspan><tspan x="45">24/08/06</tspan><tspan x="141">Dur:</tspan><tspan x="197">5 días</tspan></text></g>
<g id="n38" class="n" transform="translate(1523,913)"><rect width="276" height="43"/><path d="M0 16H276M0 29.5H276"/><text class="t" x="2" y="11" textLength="272" lengthAdjust="spacingAndGlyphs">ENCOFRADO Y DESENCOFRADO NORMAL EN ESCALE</text><text class="r" y="25.5"><tspan x="2">Comienzo:</tspan><tspan x="45">31/07/06</tspan><tspan x="141">Identificador: 38</tspan></text><text class="r" y="39.5"><tspan x="2">Fin:</tspan><tspan x="45">21/08/06</tspan><tspan x="141">Dur:</tspan><tspan x="197">2 días</tspan></text></g>
<g id="n39" class="n" transform="translate(1852,913)"><rect width="275" height="43"/><path d="M0 16H275M0 29.5H275"/><text class="t" x="2" y="11">ACERO DE REFUERZO F'Y=4,200 KG/CM2</text><text class="r" y="25.5"><tspan x="2">Comienzo:</tspan><tspan x="45">01/08/06</tspan><tspan x="141">Identificador: 39</tspan></text><text class="r" y="39.5"><tspan x="2">Fin:</tspan><tspan x="45">22/08/06</tspan><tspan x="141">Dur:</tspan><tspan x="197">2 días</tspan></text></g>
<g id="n40" class="n" transform="translate(2187,915)"><rect width="273" height="43"/><path d="M0 16H273M0 29.5H273"/><text class="t" x="2" y="11">CONCRETO EN ESCALERAS F'C=210 KG/CM2</text><text class="r" y="25.5"><tspan x="2">Comienzo:</tspan><tspan x="45">03/08/06</tspan><tspan x="141">Identificador: 40</tspan></text><text class="r" y="39.5"><tspan x="2">Fin:</tspan><tspan x="45">23/08/06</tspan><tspan x="141">Dur:</tspan><tspan x="197">2 días</tspan></text></g>
<g id="n32" class="n" transform="translate(1463,816)"><rect width="277" height="43"/><path d="M0 16H277M0 29.5H277"/><text class="t" x="2" y="11" textLength="273" lengthAdjust="spacingAndGlyphs">LADRILLO HUECO DE ARCILLA 15X30X30 CM PARA TE</text><text class="r" y="25.5"><tspan x="2">Comienzo:</tspan><tspan x="45">02/08/06</tspan><tspan x="141">Identificador: 32</tspan></text><text class="r" y="39.5"><tspan x="2">Fin:</tspan><tspan x="45">25/08/06</tspan><tspan x="141">Dur:</tspan><tspan x="197">2 días</tspan></text></g>
<g id="n30" class="n" transform="translate(1466,736)"><rect width="278" height="43"/><path d="M0 16H278M0 29.5H278"/><text class="t" x="2" y="11">ACERO DE REFUERZO F'Y=4,200 KG/CM2</text><text class="r" y="25.5"><tspan x="2">Comienzo:</tspan><tspan x="45">03/08/06</tspan><tspan x="141">Identificador: 30</tspan></text><text class="r" y="39.5"><tspan x="2">Fin:</tspan><tspan x="45">28/08/06</tspan><tspan x="141">Dur:</tspan><tspan x="197">2 días</tspan></text></g>
<g id="n31" class="n" transform="translate(1480,658)"><rect width="276" height="43"/><path d="M0 16H276M0 29.5H276"/><text class="t" x="2" y="11">LOSA ALIGERADA - CONCRETO F'C= 210 KG/CM2</text><text class="r" y="25.5"><tspan x="2">Comienzo:</tspan><tspan x="45">04/08/06</tspan><tspan x="141">Identificador: 31</tspan></text><text class="r" y="39.5"><tspan x="2">Fin:</tspan><tspan x="45">26/08/06</tspan><tspan x="141">Dur:</tspan><tspan x="197">2 días</tspan></text></g>
<g id="n35" class="n" transform="translate(1868,649)"><rect width="276" height="43"/><path d="M0 16H276M0 29.5H276"/><text class="t" x="2" y="11">ACERO DE REFUERZO F'Y=4,200 KG/CM2</text><text class="r" y="25.5"><tspan x="2">Comienzo:</tspan><tspan x="45">24/08/06</tspan><tspan x="141">Identificador: 35</tspan></text><text class="r" y="39.5"><tspan x="2">Fin:</tspan><tspan x="45">24/08/06</tspan><tspan x="141">Dur:</tspan><tspan x="197">1 día</tspan></text></g>
<g id="n36" class="n" transform="translate(1868,726)"><rect width="274" height="43"/><path d="M0 16H274M0 29.5H274"/><text class="t" x="2" y="11">CONCRETO EN LOSAS MACIZAS F'C=210 KG/CM2</text><text class="r" y="25.5"><tspan x="2">Comienzo:</tspan><tspan x="45">29/08/06</tspan><tspan x="141">Identificador: 36</tspan></text><text class="r" y="39.5"><tspan x="2">Fin:</tspan><tspan x="45">29/08/06</tspan><tspan x="141">Dur:</tspan><tspan x="197">1 día</tspan></text></g>
<g id="n52" class="n" transform="translate(1872,795)"><rect width="278" height="43"/><path d="M0 16H278M0 29.5H278"/><text class="t" x="2" y="11">CIELO RASO CON MEZCLA C:A 1:5</text><text class="r" y="25.5"><tspan x="2">Comienzo:</tspan><tspan x="45">19/09/06</tspan><tspan x="141">Identificador: 52</tspan></text><text class="r" y="39.5"><tspan x="2">Fin:</tspan><tspan x="45">27/09/06</tspan><tspan x="141">Dur:</tspan><tspan x="197">7 días</tspan></text></g>
<g id="n101" class="n" transform="translate(2198,648)"><rect width="275" height="43"/><path d="M0 16H275M0 29.5H275"/><text class="t" x="2" y="11">SALIDA DE TECHO</text><text class="r" y="25.5"><tspan x="2">Comienzo:</tspan><tspan x="45">28/09/06</tspan><tspan x="141">Identificador: 101</tspan></text><text class="r" y="39.5"><tspan x="2">Fin:</tspan><tspan x="45">02/10/06</tspan><tspan x="141">Dur:</tspan><tspan x="197">3 días</tspan></text></g>
<g id="n62" class="n" transform="translate(2203,745)"><rect width="275" height="43"/><path d="M0 16H275M0 29.5H275"/><text class="t" x="2" y="11">BRUÑAS - UNION DE MUROS Y CIELORASOS</text><text class="r" y="25.5"><tspan x="2">Comienzo:</tspan><tspan x="45">19/09/06</tspan><tspan x="141">Identificador: 62</tspan></text><text class="r" y="39.5"><tspan x="2">Fin:</tspan><tspan x="45">25/09/06</tspan><tspan x="141">Dur:</tspan><tspan x="197">5 días</tspan></text></g>
<g id="n75" class="n" transform="translate(2198,830)"><rect width="275" height="43"/><path d="M0 16H275M0 29.5H275"/><text class="t" x="2" y="11">PINTURA AL TEMPLE 2 MANOS EN CIELORRASO</text><text class="r" y="25.5"><tspan x="2">Comienzo:</tspan><tspan x="45">28/09/06</tspan><tspan x="141">Identificador: 75</tspan></text><text class="r" y="39.5"><tspan x="2">Fin:</tspan><tspan x="45">29/09/06</tspan><tspan x="141">Dur:</tspan><tspan x="197">2 días</tspan></text></g>
<g id="n106" class="n" transform="translate(1407,1014)"><rect width="275" height="43"/><path d="M0 16H275M0 29.5H275"/><text class="t" x="2" y="11">SALIDA PARA TOMACORRIENTE CON LINEA A TIERRA</text><text class="r" y="25.5"><tspan x="2">Comienzo:</tspan><tspan x="45">21/09/06</tspan><tspan x="141">Identificador: 106</tspan></text><text class="r" y="39.5"><tspan x="2">Fin:</tspan><tspan x="45">27/09/06</tspan><tspan x="141">Dur:</tspan><tspan x="197">5 días</tspan></text></g>
<g id="n102" class="n" transform="translate(1410,1094)"><rect width="276" height="43"/><path d="M0 16H276M0 29.5H276"/><text class="t" x="2" y="11">SALIDA PARA BRAQUETES</text><text class="r" y="25.5"><tspan x="2">Comienzo:</tspan><tspan x="45">21/09/06</tspan><tspan x="141">Identificador: 102</tspan></text><text class="r" y="39.5"><tspan x="2">Fin:</tspan><tspan x="45">25/09/06</tspan><tspan x="141">Dur:</tspan><tspan x="197">3 días</tspan></text></g>
<g id="n104" class="n" transform="translate(1407,1175)"><rect width="275" height="43"/><path d="M0 16H275M0 29.5H275"/><text class="t" x="2" y="11">SALIDA DE INTERRUPTOR DE CONMUTACION</text><text class="r" y="25.5"><tspan x="2">Comienzo:</tspan><tspan x="45">21/09/06</tspan><tspan x="141">Identificador: 104</tspan></text><text class="r" y="39.5"><tspan x="2">Fin:</tspan><tspan x="45">21/09/06</tspan><tspan x="141">Dur:</tspan><tspan x="197">1 día</tspan></text></g>
<g id="n103" class="n" transform="translate(1407,1356)"><rect width="275" height="43"/><path d="M0 16H275M0 29.5H275"/><text class="t" x="2" y="11">SALIDA DE INTERRUPTOR SIMPLE</text><text class="r" y="25.5"><tspan x="2">Comienzo:</tspan><tspan x="45">21/09/06</tspan><tspan x="141">Identificador: 103</tspan></text><text class="r" y="39.5"><tspan x="2">Fin:</tspan><tspan x="45">25/09/06</tspan><tspan x="141">Dur:</tspan><tspan x="197">3 días</tspan></text></g>
<g id="n63" class="n c" transform="translate(1397,1452)"><rect width="278" height="43"/><path d="M0 16H278M0 29.5H278"/><text class="t" x="2" y="11" textLength="274" lengthAdjust="spacingAndGlyphs">PUERTA PRINCIPAL DE MADERA APANELADA DE H=2.</text><text class="r" y="25.5"><tspan x="2">Comienzo:</tspan><tspan x="45">19/09/06</tspan><tspan x="141">Identificador: 63</tspan></text><text class="r" y="39.5"><tspan x="2">Fin:</tspan><tspan x="45">20/09/06</tspan><tspan x="141">Dur:</tspan><tspan x="197">2 días</tspan></text></g>
<g id="n76" class="n c" transform="translate(1052,1455)"><rect width="277" height="43"/><path d="M0 16H277M0 29.5H277"/><text class="t" x="2" y="11">PINTURA LATEX EN MUROS INTERIORES</text><text class="r" y="25.5"><tspan x="2">Comienzo:</tspan><tspan x="45">13/09/06</tspan><tspan x="141">Identificador: 76</tspan></text><text class="r" y="39.5"><tspan x="2">Fin:</tspan><tspan x="45">20/09/06</tspan><tspan x="141">Dur:</tspan><tspan x="197">6 días</tspan></text></g>
<g id="n64" class="n c" transform="translate(1729,1451)"><rect width="277" height="43"/><path d="M0 16H277M0 29.5H277"/><text class="t" x="2" y="11" textLength="273" lengthAdjust="spacingAndGlyphs">PUERTAS INTERIORES DE MADERA CONTRAPLACADA</text><text class="r" y="25.5"><tspan x="2">Comienzo:</tspan><tspan x="45">19/09/06</tspan><tspan x="141">Identificador: 64</tspan></text><text class="r" y="39.5"><tspan x="2">Fin:</tspan><tspan x="45">22/09/06</tspan><tspan x="141">Dur:</tspan><tspan x="197">4 días</tspan></text></g>
<g id="n110" class="n" transform="translate(1139,1620)"><rect width="278" height="43"/><path d="M0 16H278M0 29.5H278"/><text class="t" x="2" y="11">TABLERO DE DISTRIBUCION</text><text class="r" y="25.5"><tspan x="2">Comienzo:</tspan><tspan x="45">21/09/06</tspan><tspan x="141">Identificador: 110</tspan></text><text class="r" y="39.5"><tspan x="2">Fin:</tspan><tspan x="45">21/09/06</tspan><tspan x="141">Dur:</tspan><tspan x="197">1 día</tspan></text></g>
<g id="n111" class="n" transform="translate(1508,1616)"><rect width="276" height="43"/><path d="M0 16H276M0 29.5H276"/><text class="t" x="2" y="11">POZO DE CONEXION A TIERRA</text><text class="r" y="25.5"><tspan x="2">Comienzo:</tspan><tspan x="45">20/09/06</tspan><tspan x="141">Identificador: 111</tspan></text><text class="r" y="39.5"><tspan x="2">Fin:</tspan><tspan x="45">21/09/06</tspan><tspan x="141">Dur:</tspan><tspan x="197">2 días</tspan></text></g>
<g id="n112" class="n" transform="translate(1511,1701)"><rect width="276" height="43"/><path d="M0 16H276M0 29.5H276"/><text class="t" x="2" y="11">ALIMENTACION AL TABLERO GENERAL</text><text class="r" y="25.5"><tspan x="2">Comienzo:</tspan><tspan x="45">22/09/06</tspan><tspan x="141">Identificador: 112</tspan></text><text class="r" y="39.5"><tspan x="2">Fin:</tspan><tspan x="45">22/09/06</tspan><tspan x="141">Dur:</tspan><tspan x="197">1 día</tspan></text></g>
<g id="n83" class="n" transform="translate(1838,1616)"><rect width="275" height="43"/><path d="M0 16H275M0 29.5H275"/><text class="t" x="2" y="11">SEMBRADO DE GRASS</text><text class="r" y="25.5"><tspan x="2">Comienzo:</tspan><tspan x="45">22/09/06</tspan><tspan x="141">Identificador: 83</tspan></text><text class="r" y="39.5"><tspan x="2">Fin:</tspan><tspan x="45">22/09/06</tspan><tspan x="141">Dur:</tspan><tspan x="197">1 día</tspan></text></g>
<g id="n105" class="n" transform="translate(1148,1537)"><rect width="279" height="43"/><path d="M0 16H279M0 29.5H279"/><text class="t" x="2" y="11">SALIDA DE INTERRUPTOR DE 4 VIAS</text><text class="r" y="25.5"><tspan x="2">Comienzo:</tspan><tspan x="45">21/09/06</tspan><tspan x="141">Identificador: 105</tspan></text><text class="r" y="39.5"><tspan x="2">Fin:</tspan><tspan x="45">21/09/06</tspan><tspan x="141">Dur:</tspan><tspan x="197">1 día</tspan></text></g>
<g id="n108" class="n" transform="translate(1136,1702)"><rect width="278" height="43"/><path d="M0 16H278M0 29.5H278"/><text class="t" x="2" y="11">SALIDA PARA TV. (SOLO TUB.)</text><text class="r" y="25.5"><tspan x="2">Comienzo:</tspan><tspan x="45">21/09/06</tspan><tspan x="141">Identificador: 108</tspan></text><text class="r" y="39.5"><tspan x="2">Fin:</tspan><tspan x="45">21/09/06</tspan><tspan x="141">Dur:</tspan><tspan x="197">1 día</tspan></text></g>
<g id="n109" class="n" transform="translate(1139,1772)"><rect width="277" height="43"/><path d="M0 16H277M0 29.5H277"/><text class="t" x="2" y="11">SALIDA PARA TELEFONO (SOLO TUB.)</text><text class="r" y="25.5"><tspan x="2">Comienzo:</tspan><tspan x="45">21/09/06</tspan><tspan x="141">Identificador: 109</tspan></text><text class="r" y="39.5"><tspan x="2">Fin:</tspan><tspan x="45">21/09/06</tspan><tspan x="141">Dur:</tspan><tspan x="197">1 día</tspan></text></g>
<g id="n61" class="n" transform="translate(575,1382)"><rect width="277" height="43"/><path d="M0 16H277M0 29.5H277"/><text class="t" x="2" y="11">CONTRAZOCALO VINILICO e=1.6mm (H=0.10m)</text><text class="r" y="25.5"><tspan x="2">Comienzo:</tspan><tspan x="45">07/09/06</tspan><tspan x="141">Identificador: 61</tspan></text><text class="r" y="39.5"><tspan x="2">Fin:</tspan><tspan x="45">07/09/06</tspan><tspan x="141">Dur:</tspan><tspan x="197">1 día</tspan></text></g>
<g id="n59" class="n c" transform="translate(697,1462)"><rect width="274" height="43"/><path d="M0 16H274M0 29.5H274"/><text class="t" x="2" y="11">ZOCALO DE CERAMICO 0.30X0.30 m</text><text class="r" y="25.5"><tspan x="2">Comienzo:</tspan><tspan x="45">08/09/06</tspan><tspan x="141">Identificador: 59</tspan></text><text class="r" y="39.5"><tspan x="2">Fin:</tspan><tspan x="45">15/09/06</tspan><tspan x="141">Dur:</tspan><tspan x="197">6 días</tspan></text></g>
<g id="n79" class="n" transform="translate(723,1576)"><rect width="272" height="43"/><path d="M0 16H272M0 29.5H272"/><text class="t" x="2" y="11">COLOCACION DE APARATOS SANITARIOS</text><text class="r" y="25.5"><tspan x="2">Comienzo:</tspan><tspan x="45">08/09/06</tspan><tspan x="141">Identificador: 79</tspan></text><text class="r" y="39.5"><tspan x="2">Fin:</tspan><tspan x="45">11/09/06</tspan><tspan x="141">Dur:</tspan><tspan x="197">2 días</tspan></text></g>
<g id="n57" class="n" transform="translate(700,1669)"><rect width="273" height="43"/><path d="M0 16H273M0 29.5H273"/><text class="t" x="2" y="11">PISO DE CEMENTO PULIDO BRUÑADO</text><text class="r" y="25.5"><tspan x="2">Comienzo:</tspan><tspan x="45">08/09/06</tspan><tspan x="141">Identificador: 57</tspan></text><text class="r" y="39.5"><tspan x="2">Fin:</tspan><tspan x="45">08/09/06</tspan><tspan x="141">Dur:</tspan><tspan x="197">1 día</tspan></text></g>
<g id="n50" class="n c" transform="translate(126,1262)"><rect width="275" height="43"/><path d="M0 16H275M0 29.5H275"/><text class="t" x="2" y="11">TARRAJEO EN INTERIORES CON CEMENTO-ARENA</text><text class="r" y="25.5"><tspan x="2">Comienzo:</tspan><tspan x="45">22/08/06</tspan><tspan x="141">Identificador: 50</tspan></text><text class="r" y="39.5"><tspan x="2">Fin:</tspan><tspan x="45">31/08/06</tspan><tspan x="141">Dur:</tspan><tspan x="197">8 días</tspan></text></g>
<g id="n54" class="n c" transform="translate(146,1383)"><rect width="276" height="43"/><path d="M0 16H276M0 29.5H276"/><text class="t" x="2" y="11">CONTRAPISO 48MM</text><text class="r" y="25.5"><tspan x="2">Comienzo:</tspan><tspan x="45">01/09/06</tspan><tspan x="141">Identificador: 54</tspan></text><text class="r" y="39.5"><tspan x="2">Fin:</tspan><tspan x="45">04/09/06</tspan><tspan x="141">Dur:</tspan><tspan x="197">2 días</tspan></text></g>
<g id="n55" class="n c" transform="translate(231,1485)"><rect width="279" height="43"/><path d="M0 16H279M0 29.5H279"/><text class="t" x="2" y="11">PISO DE BALDOSA VINILICA (e=1.6 MM.)</text><text class="r" y="25.5"><tspan x="2">Comienzo:</tspan><tspan x="45">05/09/06</tspan><tspan x="141">Identificador: 55</tspan></text><text class="r" y="39.5"><tspan x="2">Fin:</tspan><tspan x="45">06/09/06</tspan><tspan x="141">Dur:</tspan><tspan x="197">2 días</tspan></text></g>
<g id="n56" class="n c" transform="translate(329,1664)"><rect width="282" height="43"/><path d="M0 16H282M0 29.5H282"/><text class="t" x="2" y="11">PISO CERAMICO 0.30X0.30 C/PEGAMENTO</text><text class="r" y="25.5"><tspan x="2">Comienzo:</tspan><tspan x="45">07/09/06</tspan><tspan x="141">Identificador: 56</tspan></text><text class="r" y="39.5"><tspan x="2">Fin:</tspan><tspan x="45">07/09/06</tspan><tspan x="141">Dur:</tspan><tspan x="197">1 día</tspan></text></g>
<g id="n107" class="n" transform="translate(2080,1242)"><rect width="274" height="43"/><path d="M0 16H274M0 29.5H274"/><text class="t" x="2" y="11">SALIDA DE TIMBRE</text><text class="r" y="25.5"><tspan x="2">Comienzo:</tspan><tspan x="45">21/09/06</tspan><tspan x="141">Identificador: 107</tspan></text><text class="r" y="39.5"><tspan x="2">Fin:</tspan><tspan x="45">21/09/06</tspan><tspan x="141">Dur:</tspan><tspan x="197">1 día</tspan></text></g>
<g id="n66" class="n" transform="translate(2079,1341)"><rect width="274" height="43"/><path d="M0 16H274M0 29.5H274"/><text class="t" x="2" y="11">BARANDA METALICA</text><text class="r" y="25.5"><tspan x="2">Comienzo:</tspan><tspan x="45">25/09/06</tspan><tspan x="141">Identificador: 66</tspan></text><text class="r" y="39.5"><tspan x="2">Fin:</tspan><tspan x="45">28/09/06</tspan><tspan x="141">Dur:</tspan><tspan x="197">4 días</tspan></text></g>
<g id="n67" class="n c" transform="translate(2069,1451)"><rect width="277" height="43"/><path d="M0 16H277M0 29.5H277"/><text class="t" x="2" y="11">VENTANA DE FIERRO</text><text class="r" y="25.5"><tspan x="2">Comienzo:</tspan><tspan x="45">25/09/06</tspan><tspan x="141">Identificador: 67</tspan></text><text class="r" y="39.5"><tspan x="2">Fin:</tspan><tspan x="45">28/09/06</tspan><tspan x="141">Dur:</tspan><tspan x="197">4 días</tspan></text></g>
<g id="n73" class="n c" transform="translate(2178,1539)"><rect width="275" height="43"/><path d="M0 16H275M0 29.5H275"/><text class="t" x="2" y="11" textLength="271" lengthAdjust="spacingAndGlyphs">VIDRIO SIMPLE. PROVISION Y COLOCACION EN VENTA</text><text class="r" y="25.5"><tspan x="2">Comienzo:</tspan><tspan x="45">29/09/06</tspan><tspan x="141">Identificador: 73</tspan></text><text class="r" y="39.5"><tspan x="2">Fin:</tspan><tspan x="45">04/10/06</tspan><tspan x="141">Dur:</tspan><tspan x="197">4 días</tspan></text></g>
<g id="n71" class="n" transform="translate(2094,997)"><rect width="274" height="43"/><path d="M0 16H274M0 29.5H274"/><text class="t" x="2" y="11">CERRADURA PUERTAS INTERIORES</text><text class="r" y="25.5"><tspan x="2">Comienzo:</tspan><tspan x="45">25/09/06</tspan><tspan x="141">Identificador: 71</tspan></text><text class="r" y="39.5"><tspan x="2">Fin:</tspan><tspan x="45">25/09/06</tspan><tspan x="141">Dur:</tspan><tspan x="197">1 día</tspan></text></g>
<g id="n70" class="n" transform="translate(2088,1072)"><rect width="275" height="43"/><path d="M0 16H275M0 29.5H275"/><text class="t" x="2" y="11">CERRADURA PARA PUERTA PRINCIPAL PESADA</text><text class="r" y="25.5"><tspan x="2">Comienzo:</tspan><tspan x="45">25/09/06</tspan><tspan x="141">Identificador: 70</tspan></text><text class="r" y="39.5"><tspan x="2">Fin:</tspan><tspan x="45">25/09/06</tspan><tspan x="141">Dur:</tspan><tspan x="197">1 día</tspan></text></g>
<g id="n69" class="n" transform="translate(2076,1152)"><rect width="273" height="43"/><path d="M0 16H273M0 29.5H273"/><text class="t" x="2" y="11">BISAGRA CAPUCHINA DE 3 1/2" X 3 1/2"</text><text class="r" y="25.5"><tspan x="2">Comienzo:</tspan><tspan x="45">25/09/06</tspan><tspan x="141">Identificador: 69</tspan></text><text class="r" y="39.5"><tspan x="2">Fin:</tspan><tspan x="45">27/09/06</tspan><tspan x="141">Dur:</tspan><tspan x="197">3 días</tspan></text></g>
</svg>
